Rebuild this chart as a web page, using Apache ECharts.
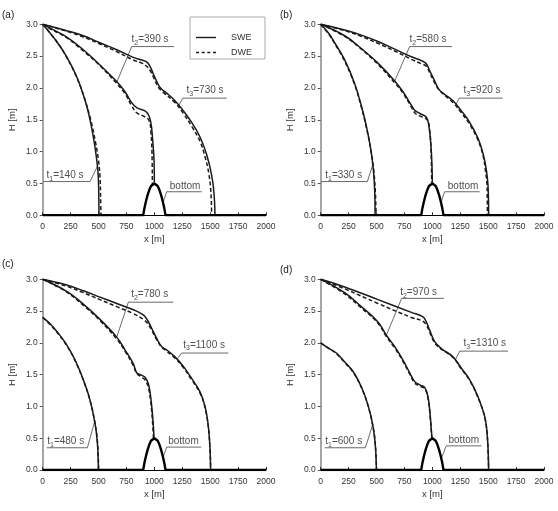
<!DOCTYPE html>
<html>
<head>
<meta charset="utf-8">
<script src="https://cdn.jsdelivr.net/npm/echarts/dist/echarts.min.js"></script>
<style>
  html, body { margin: 0; padding: 0; background: #fff; }
  #chart { width: 558px; height: 511px; }
</style>
</head>
<body>
<div id="chart"></div>
<script>
// panel letters and times of the three profiles in each panel
const panelNames = ["(a)", "(b)", "(c)", "(d)"];
const times = [[140, 390, 730], [330, 580, 920], [480, 780, 1100], [600, 970, 1310]];

// bottom profile (same in every panel)
const bottomProfile = [[0, 0], [900, 0], [905, 0.05], [912, 0.12], [925, 0.22], [940, 0.32], [955, 0.4],
  [970, 0.46], [985, 0.49], [1000, 0.5], [1015, 0.49], [1030, 0.46], [1045, 0.4], [1060, 0.32],
  [1075, 0.22], [1088, 0.12], [1095, 0.05], [1100, 0], [2000, 0]];

// (a)
const aSwe1 = [[0, 3.0], [125, 2.73], [215, 2.49], [304, 2.18], [379, 1.81], [424, 1.5], [463, 1.13], [484, 0.87], [496, 0.66], [501, 0.45], [504, 0]];
const aDwe1 = [[0, 3.0], [125, 2.73], [215, 2.48], [304, 2.17], [379, 1.81], [430, 1.5], [475, 1.13], [499, 0.87], [513, 0.61], [519, 0.24], [522, 0]];
const aSwe2 = [[0, 3.0], [66, 2.94], [215, 2.8], [364, 2.6], [513, 2.36], [663, 2.1], [737, 1.94], [797, 1.77], [842, 1.69], [931, 1.62], [967, 1.47], [985, 1.18], [997, 0.87], [1000, 0.51]];
const aDwe2 = [[0, 3.0], [66, 2.93], [215, 2.79], [364, 2.58], [513, 2.35], [663, 2.07], [737, 1.91], [797, 1.72], [842, 1.61], [901, 1.56], [952, 1.49], [970, 1.29], [979, 0.97], [982, 0.47]];
const aSwe3 = [[0, 3.0], [215, 2.9], [364, 2.82], [513, 2.71], [663, 2.6], [812, 2.48], [887, 2.44], [931, 2.41], [961, 2.34], [991, 2.22], [1036, 2.05], [1066, 1.98], [1110, 1.92], [1185, 1.8], [1260, 1.64], [1334, 1.46], [1409, 1.23], [1469, 0.95], [1513, 0.63], [1534, 0.35], [1543, 0]];
const aDwe3 = [[0, 3.0], [215, 2.89], [364, 2.8], [513, 2.69], [663, 2.57], [812, 2.44], [887, 2.39], [931, 2.34], [967, 2.26], [997, 2.15], [1036, 2.01], [1081, 1.93], [1185, 1.77], [1260, 1.6], [1334, 1.4], [1409, 1.16], [1454, 0.92], [1490, 0.63], [1507, 0.35], [1513, 0]];

// (b)
const bSwe1 = [[0, 3.0], [66, 2.87], [125, 2.71], [215, 2.44], [304, 2.07], [364, 1.72], [409, 1.4], [448, 1.04], [472, 0.71], [484, 0.37], [487, 0]];
const bDwe1 = [[0, 3.0], [66, 2.86], [125, 2.7], [215, 2.42], [304, 2.05], [364, 1.7], [409, 1.38], [450, 1.02], [476, 0.69], [490, 0.35], [496, 0]];
const bSwe2 = [[0, 3.0], [215, 2.82], [364, 2.62], [513, 2.39], [663, 2.11], [737, 1.94], [812, 1.73], [842, 1.65], [887, 1.6], [946, 1.54], [970, 1.39], [988, 1.08], [997, 0.76], [1000, 0.51]];
const bDwe2 = [[0, 3.0], [215, 2.81], [364, 2.61], [513, 2.37], [663, 2.08], [737, 1.92], [812, 1.7], [848, 1.6], [901, 1.55], [955, 1.5], [976, 1.34], [988, 1.03], [994, 0.51]];
const bSwe3 = [[0, 3.0], [215, 2.91], [364, 2.83], [513, 2.73], [663, 2.61], [812, 2.49], [901, 2.43], [946, 2.38], [976, 2.27], [1021, 2.11], [1057, 1.98], [1110, 1.9], [1185, 1.8], [1260, 1.64], [1334, 1.46], [1409, 1.21], [1454, 0.97], [1484, 0.71], [1499, 0.45], [1504, 0]];
const bDwe3 = [[0, 3.0], [215, 2.9], [364, 2.81], [513, 2.7], [663, 2.58], [812, 2.45], [901, 2.38], [946, 2.34], [979, 2.23], [1021, 2.08], [1066, 1.96], [1185, 1.77], [1260, 1.61], [1334, 1.43], [1409, 1.18], [1454, 0.94], [1475, 0.71], [1490, 0.45], [1493, 0]];

// (c)
const cSwe1 = [[0, 2.4], [66, 2.3], [140, 2.15], [215, 1.97], [290, 1.73], [364, 1.42], [424, 1.1], [469, 0.73], [490, 0.42], [499, 0]];
const cDwe1 = [[0, 2.4], [66, 2.29], [140, 2.14], [215, 1.96], [290, 1.72], [364, 1.41], [424, 1.09], [470, 0.72], [492, 0.41], [501, 0]];
const cSwe2 = [[0, 3.0], [215, 2.81], [364, 2.61], [513, 2.37], [663, 2.09], [737, 1.89], [812, 1.67], [842, 1.53], [887, 1.49], [916, 1.46], [946, 1.36], [967, 1.15], [985, 0.84], [997, 0.52]];
const cDwe2 = [[0, 3.0], [215, 2.8], [364, 2.59], [513, 2.35], [663, 2.06], [737, 1.87], [812, 1.64], [842, 1.52], [887, 1.46], [916, 1.42], [946, 1.3], [967, 1.08], [982, 0.8], [992, 0.5]];
const cSwe3 = [[0, 3.0], [215, 2.91], [364, 2.82], [513, 2.72], [663, 2.62], [812, 2.52], [901, 2.44], [937, 2.36], [976, 2.23], [1021, 2.07], [1066, 1.94], [1110, 1.89], [1185, 1.78], [1260, 1.63], [1334, 1.44], [1409, 1.23], [1454, 1.0], [1484, 0.68], [1499, 0.31], [1504, 0]];
const cDwe3 = [[0, 3.0], [215, 2.89], [364, 2.79], [513, 2.68], [663, 2.57], [812, 2.46], [901, 2.37], [937, 2.31], [976, 2.2], [1021, 2.05], [1066, 1.93], [1110, 1.87], [1185, 1.76], [1260, 1.61], [1334, 1.42], [1409, 1.21], [1454, 0.98], [1484, 0.67], [1499, 0.3], [1504, 0]];

// (d)
const dSwe1 = [[0, 2.0], [66, 1.92], [140, 1.84], [215, 1.7], [290, 1.55], [364, 1.31], [424, 1.02], [469, 0.68], [490, 0.37], [499, 0]];
const dDwe1 = [[0, 2.0], [66, 1.92], [140, 1.83], [215, 1.69], [290, 1.54], [364, 1.3], [424, 1.01], [470, 0.67], [491, 0.36], [500, 0]];
const dSwe2 = [[0, 3.0], [215, 2.79], [364, 2.57], [513, 2.33], [588, 2.12], [663, 1.94], [737, 1.73], [797, 1.53], [842, 1.39], [887, 1.34], [931, 1.3], [961, 1.15], [979, 0.89], [991, 0.63], [997, 0.5]];
const dDwe2 = [[0, 3.0], [215, 2.77], [364, 2.55], [513, 2.31], [588, 2.1], [663, 1.92], [737, 1.71], [797, 1.51], [842, 1.37], [887, 1.32], [931, 1.28], [961, 1.13], [979, 0.87], [991, 0.6], [995, 0.5]];
const dSwe3 = [[0, 3.0], [215, 2.88], [513, 2.68], [812, 2.48], [916, 2.41], [946, 2.33], [976, 2.2], [1021, 2.02], [1081, 1.91], [1185, 1.78], [1260, 1.6], [1334, 1.42], [1409, 1.15], [1469, 0.84], [1493, 0.52], [1504, 0]];
const dDwe3 = [[0, 3.0], [215, 2.85], [513, 2.62], [812, 2.4], [916, 2.34], [946, 2.28], [976, 2.17], [1021, 2.0], [1081, 1.9], [1185, 1.77], [1260, 1.59], [1334, 1.41], [1409, 1.14], [1469, 0.83], [1493, 0.51], [1504, 0]];

const swe = [[aSwe1, aSwe2, aSwe3], [bSwe1, bSwe2, bSwe3], [cSwe1, cSwe2, cSwe3], [dSwe1, dSwe2, dSwe3]];
const dwe = [[aDwe1, aDwe2, aDwe3], [bDwe1, bDwe2, bDwe3], [cDwe1, cDwe2, cDwe3], [dDwe1, dDwe2, dDwe3]];

// annotation texts: anchor (left, text middle) in data units, order t1, t2, t3, bottom
const labelAt = [
  [[30, 0.63], [791, 2.76], [1284, 1.96], [1134, 0.46]],
  [[36, 0.63], [791, 2.76], [1275, 1.96], [1134, 0.46]],
  [[36, 0.45], [788, 2.76], [1254, 1.97], [1119, 0.45]],
  [[36, 0.45], [707, 2.79], [1275, 1.99], [1140, 0.47]]
];
// leader lines: point on curve, knee, end of underline
const leaders = [
  [[[490, 0.77], [424, 0.53], [6, 0.53]], [[663, 2.09], [797, 2.65], [1176, 2.65]], [[1220, 1.73], [1254, 1.84], [1648, 1.84]], [[1078, 0.2], [1110, 0.37], [1424, 0.37]]],
  [[[466, 0.79], [418, 0.53], [6, 0.53]], [[663, 2.11], [797, 2.65], [1176, 2.65]], [[1212, 1.74], [1240, 1.84], [1630, 1.84]], [[1078, 0.2], [1110, 0.37], [1424, 0.37]]],
  [[[465, 0.76], [400, 0.35], [36, 0.35]], [[663, 2.09], [767, 2.64], [1170, 2.64]], [[1205, 1.75], [1245, 1.84], [1663, 1.84]], [[1078, 0.2], [1110, 0.36], [1420, 0.36]]],
  [[[465, 0.71], [400, 0.35], [36, 0.35]], [[588, 2.12], [725, 2.7], [1104, 2.7]], [[1205, 1.73], [1245, 1.87], [1678, 1.87]], [[1082, 0.19], [1125, 0.38], [1440, 0.38]]]
];

const gridBoxes = [
  { left: 42.7, top: 24.3, width: 223.3, height: 191 },
  { left: 320.7, top: 24.3, width: 223.3, height: 191 },
  { left: 42.7, top: 279.3, width: 223.3, height: 190.7 },
  { left: 320.7, top: 279.3, width: 223.3, height: 190.7 }
];
const letterPos = [[2, 10], [280, 10], [2, 259], [280, 265]];

const font = "Liberation Sans, Arial, sans-serif";
const narrow = "'Liberation Sans Narrow', 'Arial Narrow', 'Liberation Sans', sans-serif";
const ink = "#1a1a1a";
const chart = echarts.init(document.getElementById("chart"));

const series = [];
for (let p = 0; p < 4; p++) {
  const common = { xAxisIndex: p, yAxisIndex: p, symbol: "none", showSymbol: false, silent: true, animation: false };
  // leader lines
  leaders[p].forEach((pts) => {
    series.push(Object.assign({ type: "line", data: pts, z: 2, lineStyle: { color: "#444", width: 0.8 } }, common));
  });
  for (let k = 0; k < 3; k++) {
    series.push(Object.assign({
      type: "line", name: "SWE", data: swe[p][k], smooth: 0.4, z: 3,
      itemStyle: { color: ink }, lineStyle: { color: ink, width: 1.5 }
    }, common));
    series.push(Object.assign({
      type: "line", name: "DWE", data: dwe[p][k], smooth: 0.4, z: 3,
      itemStyle: { color: ink }, lineStyle: { color: ink, width: 1.5, type: [4, 2.5] }
    }, common));
  }
  series.push(Object.assign({ type: "line", data: bottomProfile, z: 4, lineStyle: { color: "#000", width: 2.4 } }, common));
  // annotation texts
  const texts = [
    "t{s|1}=" + times[p][0] + " s",
    "t{s|2}=" + times[p][1] + " s",
    "t{s|3}=" + times[p][2] + " s",
    "bottom"
  ];
  series.push({
    type: "scatter", xAxisIndex: p, yAxisIndex: p, symbolSize: 1, silent: true, animation: false,
    itemStyle: { color: "rgba(0,0,0,0)" },
    data: labelAt[p].map((v, i) => ({ value: v, name: texts[i] })),
    label: {
      show: true, position: "right", distance: 0,
      formatter: (d) => d.name,
      fontFamily: font, fontSize: 10, lineHeight: 14, color: "#222",
      rich: { s: { fontFamily: font, fontSize: 7, lineHeight: 7, verticalAlign: "bottom", color: "#222" } }
    }
  });
}

const option = {
  animation: false,
  backgroundColor: "#fff",
  title: panelNames.map((t, i) => ({
    text: t, left: letterPos[i][0], top: letterPos[i][1], padding: 0,
    textStyle: { fontFamily: font, fontSize: 10, fontWeight: "normal", color: "#222" }
  })),
  legend: {
    data: [
      { name: "SWE", icon: "rect" },
      { name: "DWE", icon: "path://M0,0h3v1h-3z M5.6,0h3v1h-3z M11.2,0h3v1h-3z M16.8,0h3v1h-3z" }
    ],
    orient: "vertical", left: 190, top: 17,
    padding: [16, 13, 2, 6], itemWidth: 20, itemHeight: 1.4, itemGap: 6,
    symbolKeepAspect: false,
    itemStyle: { color: ink, borderWidth: 0 },
    borderColor: "#aaa", borderWidth: 1, selectedMode: false,
    textStyle: { fontFamily: font, fontSize: 9, color: "#333", padding: [0, 0, 0, 10] }
  },
  grid: gridBoxes.map((g) => Object.assign({ containLabel: false }, g)),
  xAxis: gridBoxes.map((g, i) => ({
    type: "value", gridIndex: i, min: 0, max: 2000, interval: 250,
    name: "x [m]", nameLocation: "middle", nameGap: 19,
    nameTextStyle: { fontFamily: font, fontSize: 9.5, color: "#333" },
    axisLine: { show: true, lineStyle: { color: "#000", width: 1 } },
    axisTick: { show: true, inside: true, length: 3, lineStyle: { color: "#333" } },
    axisLabel: { fontFamily: narrow, fontSize: 8.5, color: "#333", margin: 7, formatter: (v) => String(v) },
    splitLine: { show: false }
  })),
  yAxis: gridBoxes.map((g, i) => ({
    type: "value", gridIndex: i, min: 0, max: 3, interval: 0.5,
    name: "H [m]", nameLocation: "middle", nameGap: 25, nameRotate: 90,
    nameTextStyle: { fontFamily: font, fontSize: 9.5, color: "#333" },
    axisLine: { show: true, lineStyle: { color: "#888", width: 1.5 } },
    axisTick: { show: true, inside: false, length: 3, lineStyle: { color: "#555" } },
    axisLabel: { fontFamily: narrow, fontSize: 8.5, color: "#333", margin: 5, formatter: (v) => v.toFixed(1) },
    splitLine: { show: false }
  })),
  series: series
};

chart.setOption(option);
</script>
</body>
</html>
